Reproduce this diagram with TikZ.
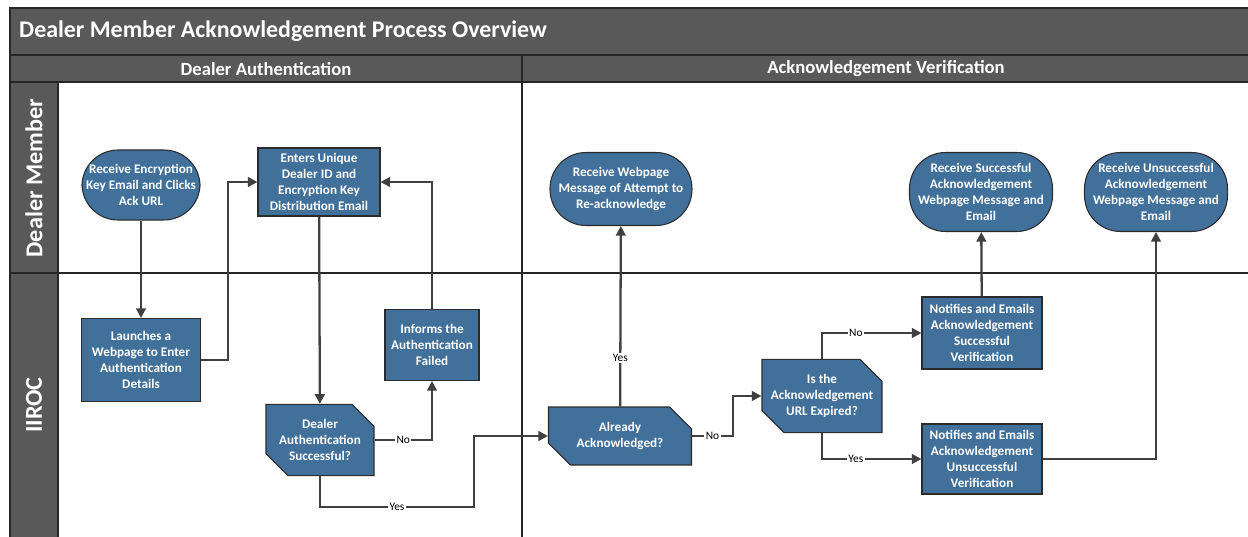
\documentclass[tikz,border=0pt]{standalone}
\usepackage{fontspec}
\setmainfont{Carlito}
\usepackage{xcolor}
\definecolor{laneGray}{HTML}{595959}
\definecolor{laneLine}{HTML}{262626}
\definecolor{stepFill}{HTML}{41709B}
\definecolor{stepBorder}{HTML}{2B2B2B}
\definecolor{flowGray}{HTML}{404040}
\usepackage{tikz}
\usetikzlibrary{shapes.misc,arrows.meta,positioning,calc}
\tikzset{
    task/.style={
        draw=stepBorder,
        fill=stepFill,
        rectangle,
        align=center,
        inner sep=1pt,
        line width=0.6pt,
        text=white,
        font=\fontsize{7.5}{9.1}\selectfont\bfseries
    },
    terminal/.style={
        task,
        rounded corners=0.72cm
    },
    decision/.style={
        task,
        inner xsep=0pt,
        chamfered rectangle,
        chamfered rectangle corners={north east,south west},
        chamfered rectangle xsep=5pt,
        chamfered rectangle ysep=7.5pt
    },
    flow/.style={
        draw=flowGray,
        line width=1.3pt,
        -{Triangle[length=5.5pt,width=5.5pt]}
    },
    lbl/.style={
        font=\fontsize{6.5}{7.5}\selectfont,
        fill=white,
        inner sep=0.8pt,
        text=black
    },
    lanetext/.style={
        text=white,
        font=\fontsize{13.8}{16}\selectfont\bfseries
    },
    phasetext/.style={
        text=white,
        font=\fontsize{10.6}{12}\selectfont\bfseries
    }
}

\begin{document}
\begin{tikzpicture}[x=0.02cm, y=-0.02cm]
    \clip (0,0) rectangle (1248,537);
    \fill[white] (0,0) rectangle (1248,537);

    % swimlane frame
    \fill[laneGray] (10,8) rectangle (1260,82);
    \fill[laneGray] (10,82) rectangle (58,550);
    \draw[laneLine, line width=0.8pt] (10,8) rectangle (1260,550);
    \draw[laneLine, line width=0.8pt] (10,55) -- (1260,55);
    \draw[laneLine, line width=0.8pt] (10,82) -- (1260,82);
    \draw[laneLine, line width=0.8pt] (58,82) -- (58,550);
    \draw[laneLine, line width=0.6pt] (10,273) -- (1260,273);
    \draw[laneLine, line width=0.6pt] (522,55) -- (522,550);

    \node[lanetext, anchor=west, font=\fontsize{13.6}{16}\selectfont\bfseries] (title) at (13,31) {Dealer Member Acknowledgement Process Overview};
    \node[phasetext] (phaseA) at (266,69) {Dealer Authentication};
    \node[phasetext] (phaseB) at (886,69) {Acknowledgement Verification};
    \node[lanetext, rotate=90] (laneDealer) at (34,178) {Dealer Member};
    \node[lanetext, rotate=90] (laneIiroc) at (34,405) {IIROC};

    % steps
    \node[terminal, minimum width=2.36cm, minimum height=1.4cm] (receiveKey) at (141,185) {Receive Encryption\\Key Email and Clicks\\Ack URL};
    \node[task, minimum width=2.38cm, minimum height=1.66cm] (launchPage) at (141,360) {Launches a\\Webpage to Enter\\Authentication\\Details};
    \node[task, minimum width=2.44cm, minimum height=1.36cm] (enterId) at (319,182) {Enters Unique\\Dealer ID and\\Encryption Key\\Distribution Email};
    \node[task, minimum width=1.88cm, minimum height=1.42cm] (authFailed) at (432,345) {Informs the\\Authentication\\Failed};
    \node[decision, minimum width=2.16cm, minimum height=1.3cm] (authOk) at (320,440) {Dealer\\Authentication\\Successful?};
    \node[decision, minimum width=2.86cm, minimum height=1.16cm] (alreadyAck) at (620,436) {Already\\Acknowledged?};
    \node[decision, minimum width=2.4cm, minimum height=1.16cm] (urlExpired) at (822,396) {Is the\\Acknowledgement\\URL Expired?};
    \node[terminal, minimum width=2.84cm, minimum height=1.46cm] (reAck) at (621,189) {Receive Webpage\\Message of Attempt to\\Re-acknowledge};
    \node[terminal, minimum width=2.86cm, minimum height=1.58cm] (okMsg) at (981,192) {Receive Successful\\Acknowledgement\\Webpage Message and\\Email};
    \node[terminal, minimum width=2.86cm, minimum height=1.58cm] (failMsg) at (1156,192) {Receive Unsuccessful\\Acknowledgement\\Webpage Message and\\Email};
    \node[task, minimum width=2.4cm, minimum height=1.44cm] (notifyOk) at (982,333) {Notifies and Emails\\Acknowledgement\\Successful\\Verification};
    \node[task, minimum width=2.4cm, minimum height=1.4cm] (notifyFail) at (982,459) {Notifies and Emails\\Acknowledgement\\Unsuccessful\\Verification};

    \coordinate (yesTurn) at (474,507);

    % connectors
    \draw[flow] (receiveKey) -- (launchPage);
    \draw[flow] (launchPage.east) -- ++(27,0) |- (enterId.west);
    \draw[flow] (enterId) -- (authOk);
    \draw[flow] (authOk.east) -| (authFailed.south) node[lbl, pos=0.25] {No};
    \draw[flow] (authFailed.north) |- (enterId.east);
    \draw[flow] (authOk.south) |- (yesTurn) node[lbl, pos=0.75] {Yes} |- (alreadyAck.west);
    \draw[flow] (alreadyAck) -- (reAck) node[lbl, pos=0.27] {Yes};
    \draw[flow] (alreadyAck.east) -- ++(41,0) node[lbl, midway] {No} |- (urlExpired.west);
    \draw[flow] (urlExpired.north) |- (notifyOk.west) node[lbl, pos=0.67] {No};
    \draw[flow] (urlExpired.south) |- (notifyFail.west) node[lbl, pos=0.67] {Yes};
    \draw[flow] (notifyOk) -- (okMsg);
    \draw[flow] (notifyFail.east) -| (failMsg.south);
\end{tikzpicture}
\end{document}
